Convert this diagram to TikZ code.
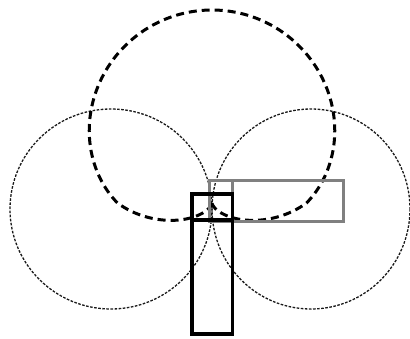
\documentclass[tikz,border=0pt]{standalone}
\begin{document}
\begin{tikzpicture}[x=1pt,y=-1pt,
  fig8/.style={draw=black!90,line width=1.3pt,dash pattern=on 2.6pt off 1.5pt},
  cardio/.style={draw=black,line width=3pt,dash pattern=on 8pt off 5pt},
  greymic/.style={draw=black!50,line width=3pt},
  blackmic/.style={draw=black,line width=3.2pt}]
\useasboundingbox (0,0) rectangle (410,338);
% figure-eight pattern
\draw[fig8] (111,209) ellipse [x radius=101, y radius=100];
\draw[fig8] (311,209) ellipse [x radius=99, y radius=100];
% cardioid pattern
\draw[cardio] plot[domain=-90:270,samples=181,smooth]
  ({212+94.5*(1+sin(\x))*cos(\x)},{203-96.5*(1+sin(\x))*sin(\x)*(sin(\x)>0?1:0.72)});
% grey microphone
\draw[greymic] (209.5,180.5) rectangle (343,221.5);
\draw[greymic] (232,180.5) -- (232,221.5);
% black microphone
\draw[blackmic] (192,194) rectangle (232.5,334);
\draw[black,line width=4.5pt] (192,220) -- (232.5,220);
\end{tikzpicture}
\end{document}
